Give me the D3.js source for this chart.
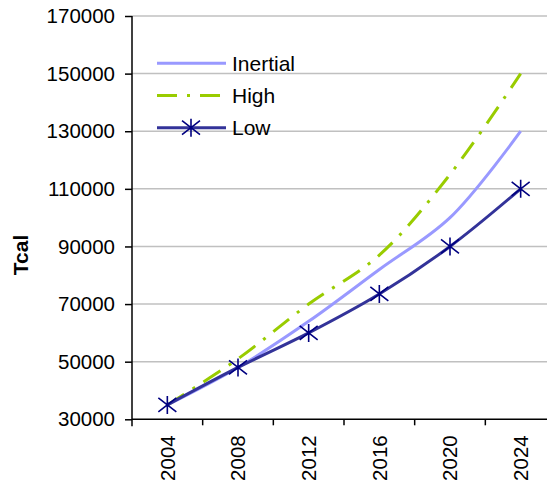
<!DOCTYPE html>
<html>
<head>
<meta charset="utf-8">
<script src="https://cdn.jsdelivr.net/npm/d3@7"></script>
<style>
  body { margin: 0; background: #fff; }
  svg { display: block; font-family: "Liberation Sans", Arial, sans-serif; }
</style>
</head>
<body>
<div class="graphics"></div>
<script>
// data
var years = ["2004", "2008", "2012", "2016", "2020", "2024"];
var inertial = [35000, 48000, 64000, 82000, 100000, 130000];
var high = [35000, 51000, 70000, 87000, 115000, 150000];
var low = [35000, 48000, 60000, 73500, 90000, 110000];
var yTicks = [30000, 50000, 70000, 90000, 110000, 130000, 150000, 170000];

function linechart(){
    var width = 547, height = 484;
    var left = 132, top = 16, bottom = 419.3, right = 556;

    var svg = d3.select(".graphics")
        .append("svg")
        .attr("width", width)
        .attr("height", height);

    var x = d3.scaleBand()
        .domain(years)
        .range([left, right])
        .padding(0);

    var y = d3.scaleLinear()
        .domain([30000, 170000])
        .range([bottom, top]);

    // gridlines
    svg.append("g")
        .selectAll("line")
        .data(yTicks.slice(1))
        .enter()
        .append("line")
            .attr("x1", left)
            .attr("x2", width)
            .attr("y1", function(d) { return y(d); })
            .attr("y2", function(d) { return y(d); })
            .attr("stroke", "#c0c0c0")
            .attr("stroke-width", 1.5);

    // Y axis
    var yAxis = svg.append("g")
        .attr("transform", "translate(" + left + ",0)")
        .call(d3.axisLeft(y).tickValues(yTicks).tickSize(7).tickPadding(10).tickFormat(d3.format("d")));
    yAxis.select(".domain").remove();
    yAxis.selectAll("line").attr("stroke", "#000").attr("stroke-width", 1.5);
    yAxis.selectAll("text")
        .style("font-size", "20.5px")
        .attr("fill", "#000");
    svg.append("line")
        .attr("x1", left).attr("x2", left)
        .attr("y1", top).attr("y2", bottom + 7)
        .attr("stroke", "#000").attr("stroke-width", 1.5);

    // X axis (ticks between categories)
    svg.append("line")
        .attr("x1", left).attr("x2", width)
        .attr("y1", bottom).attr("y2", bottom)
        .attr("stroke", "#000").attr("stroke-width", 1.5);
    svg.append("g")
        .selectAll("line")
        .data(years.slice(1))
        .enter()
        .append("line")
            .attr("x1", function(d) { return x(d); })
            .attr("x2", function(d) { return x(d); })
            .attr("y1", bottom)
            .attr("y2", bottom + 6)
            .attr("stroke", "#000")
            .attr("stroke-width", 1.5);
    svg.append("g")
        .selectAll("text")
        .data(years)
        .enter()
        .append("text")
            .attr("transform", function(d) {
                return "translate(" + (x(d) + x.bandwidth() / 2) + "," + (bottom + 16) + ")rotate(-90)";
            })
            .attr("text-anchor", "end")
            .attr("dy", "0.35em")
            .style("font-size", "20.5px")
            .text(function(d) { return d; });

    // Y title
    svg.append("text")
        .attr("transform", "translate(21,255)rotate(-90)")
        .attr("text-anchor", "middle")
        .attr("dy", "0.35em")
        .style("font-size", "21px")
        .style("font-weight", "bold")
        .text("Tcal");

    var cx = function(i) { return x(years[i]) + x.bandwidth() / 2; };
    var line = d3.line()
        .x(function(d, i) { return cx(i); })
        .y(function(d) { return y(d); })
        .curve(d3.curveCatmullRom.alpha(0.5));

    var series = [
        { name: "Inertial", values: inertial, color: "#9999ff", dash: null },
        { name: "High", values: high, color: "#99cc00", dash: "20,10,3,10" },
        { name: "Low", values: low, color: "#333399", dash: null }
    ];

    svg.selectAll("path.series")
        .data(series)
        .enter()
        .append("path")
            .attr("class", "series")
            .attr("d", function(d) { return line(d.values); })
            .attr("fill", "none")
            .attr("stroke", function(d) { return d.color; })
            .attr("stroke-width", 3)
            .attr("stroke-dasharray", function(d) { return d.dash; });

    var star = "M0,-9L0,9M-9,-7L9,7M-9,7L9,-7";

    // markers on Low
    svg.selectAll("path.star")
        .data(low)
        .enter()
        .append("path")
            .attr("class", "star")
            .attr("transform", function(d, i) { return "translate(" + cx(i) + "," + y(d) + ")"; })
            .attr("d", star)
            .attr("fill", "none")
            .attr("stroke", "#000080")
            .attr("stroke-width", 1.6);

    // legend
    var legend = svg.append("g");
    series.forEach(function(s, i) {
        var ly = 63.3 + i * 32.2;
        legend.append("line")
            .attr("x1", 157).attr("x2", 226)
            .attr("y1", ly).attr("y2", ly)
            .attr("stroke", s.color)
            .attr("stroke-width", 3)
            .attr("stroke-dasharray", s.dash);
        if (s.name === "Low") {
            legend.append("path")
                .attr("transform", "translate(191," + ly + ")")
                .attr("d", star)
                .attr("fill", "none")
                .attr("stroke", "#000080")
                .attr("stroke-width", 1.6);
        }
        legend.append("text")
            .attr("x", 232)
            .attr("y", ly)
            .attr("dy", "0.35em")
            .style("font-size", "21px")
            .text(s.name);
    });
}

linechart()
</script>
</body>
</html>
